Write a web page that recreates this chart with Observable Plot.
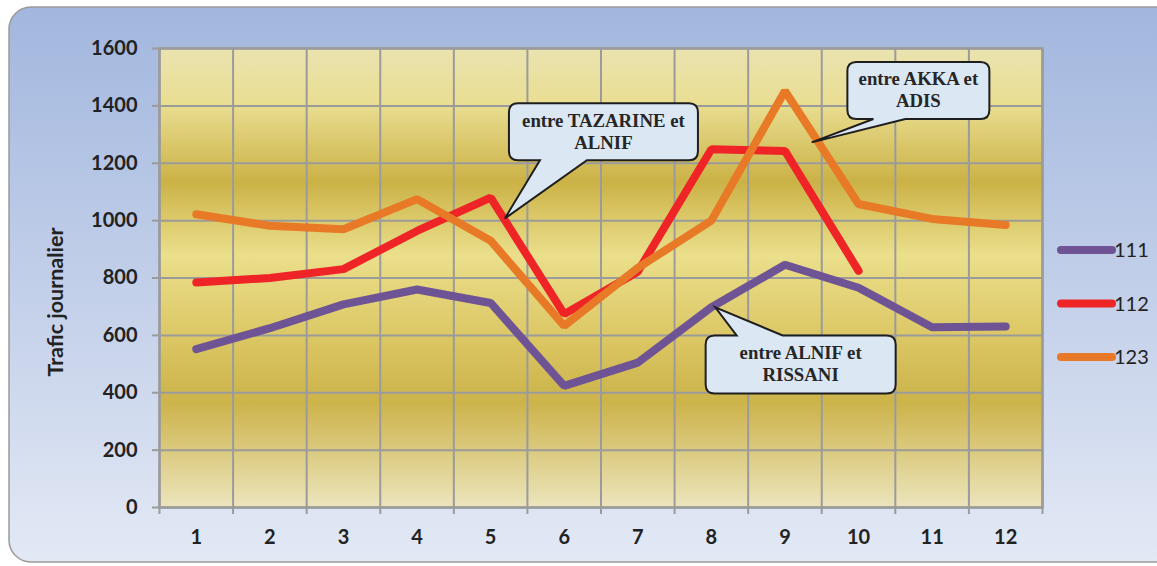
<!DOCTYPE html>
<html><head><meta charset="utf-8">
<script src="https://cdn.jsdelivr.net/npm/d3@7"></script>
<script src="https://cdn.jsdelivr.net/npm/@observablehq/plot@0.6"></script>
<style>body{margin:0;background:#fff;overflow:hidden}</style>
</head><body><div id="chart"></div>
<script>
// ---- data ----
const months = [1,2,3,4,5,6,7,8,9,10,11,12];
const seriesNames = ["111","112","123"];
const values111 = [552,625,708,760,713,424,505,698,846,766,628,631];
const values112 = [784,800,831,964,1080,674,822,1249,1243,825,null,null];
const values123 = [1022,982,970,1075,930,633,835,1000,1452,1058,1006,985];
const seriesColors = ["#6e5494","#ee2427","#e87a27"];
const yTicks = [0,200,400,600,800,1000,1200,1400,1600];
const xBoundaries = [0.5,1.5,2.5,3.5,4.5,5.5,6.5,7.5,8.5,9.5,10.5,11.5,12.5];
const yTitle = "Trafic journalier";
const calloutTexts = [["entre TAZARINE et","ALNIF"],["entre AKKA et","ADIS"],["entre ALNIF et","RISSANI"]];
const calloutBoxX = [6.54, 10.82, 9.22];
const calloutBoxY = [1308, 1452, 497];
const calloutTipX = [5.2, 9.37, 8.06];
const calloutTipY = [1006, 1271, 696];

const rows = [];
months.forEach((m,i)=>{
  [values111,values112,values123].forEach((arr,k)=>{
    if (arr[i] != null) rows.push({month:m, value:arr[i], series:seriesNames[k]});
  });
});

const W = 1157, H = 566;
const grid = "#9b9b9b";
const font = "Lato, 'Open Sans', sans-serif";
const chart = Plot.plot({
  width: W, height: H,
  marginLeft: 159, marginRight: 115, marginTop: 48, marginBottom: 59,
  style: {background: "transparent", fontFamily: font},
  x: {domain: [0.5, 12.5], label: null},
  y: {domain: [0, 1600], label: null},
  color: {domain: seriesNames, range: seriesColors},
  marks: [
    Plot.frame({fill: "url(#goldGrad)", stroke: null}),
    Plot.gridY(yTicks, {stroke: grid, strokeOpacity: 1, strokeWidth: 2}),
    Plot.gridX(xBoundaries, {stroke: grid, strokeOpacity: 1, strokeWidth: 2}),
    Plot.frame({stroke: grid, strokeWidth: 2.5}),
    Plot.axisY(yTicks, {tickSize: 7, tickFormat: () => "", stroke: grid, strokeWidth: 2, label: null}),
    Plot.axisY(yTicks, {tickSize: 0, tickPadding: 22, tickFormat: d => String(d), fontSize: 20, fontWeight: "bold", fill: "#222", label: null}),
    Plot.axisX(xBoundaries, {tickSize: 7, tickFormat: () => "", stroke: grid, strokeWidth: 2, label: null}),
    Plot.axisX(months, {tickSize: 0, tickPadding: 22, tickFormat: d => String(d), fontSize: 20, fontWeight: "bold", fill: "#222", label: null}),
    Plot.line(rows, {x: "month", y: "value", z: "series", stroke: "series", strokeWidth: 8,
      strokeLinecap: "round", strokeLinejoin: "miter"})
  ]
});
document.getElementById("chart").appendChild(chart);

const svg = d3.select(chart);
const defs = svg.insert("defs", ":first-child");
const gold = defs.append("linearGradient").attr("id","goldGrad").attr("x1",0).attr("y1",0).attr("x2",0).attr("y2",1);
[[0,"#eae3b0"],[0.12,"#e9de92"],[0.29,"#cbb246"],[0.45,"#ebdf8c"],[0.62,"#dcc866"],[0.77,"#ccb34a"],[1,"#ece5bd"]]
  .forEach(([o,c]) => gold.append("stop").attr("offset",o).attr("stop-color",c));
const blue = defs.append("linearGradient").attr("id","panelGrad").attr("x1",0).attr("y1",0).attr("x2",0).attr("y2",1);
[[0,"#a2b7de"],[0.5,"#c2cfe9"],[1,"#e3e9f5"]]
  .forEach(([o,c]) => blue.append("stop").attr("offset",o).attr("stop-color",c));

svg.insert("rect", "defs + *")
  .attr("x",9).attr("y",7).attr("width",1170).attr("height",555)
  .attr("rx",22).attr("fill","url(#panelGrad)").attr("stroke","#9a9a9a").attr("stroke-width",1.5);

// y title
svg.append("text").attr("transform","translate(63,302) rotate(-90)")
  .attr("text-anchor","middle").attr("font-family",font)
  .attr("font-weight","bold").attr("font-size",21.5).attr("fill","#222").text(yTitle);

// legend
const lg = svg.append("g");
seriesNames.forEach((s,i) => {
  const y = 250 + i*53.5;
  lg.append("line").attr("x1",1061).attr("x2",1112).attr("y1",y).attr("y2",y)
    .attr("stroke",seriesColors[i]).attr("stroke-width",8).attr("stroke-linecap","round");
  lg.append("text").attr("x",1114).attr("y",y+7).attr("text-anchor","start").attr("font-family",font)
    .attr("font-size",20).attr("fill","#222").text(s);
});

// callouts
const xs = chart.scale("x"), ys = chart.scale("y");
const boxSize = [[189,57],[142,57],[190,58]];
const pointerSide = ["bottom","bottom","top"];
const pointerBase = [[31,78],[26,58],[31,77]];
function calloutPath(x0,y0,w,h,r,side,b1,b2,tx,ty){
  const x1=x0+w, y1=y0+h;
  let d = `M${x0+r},${y0}`;
  if (side==="top") d += `L${x0+b1},${y0}L${tx},${ty}L${x0+b2},${y0}`;
  d += `L${x1-r},${y0}Q${x1},${y0} ${x1},${y0+r}L${x1},${y1-r}Q${x1},${y1} ${x1-r},${y1}`;
  if (side==="bottom") d += `L${x0+b2},${y1}L${tx},${ty}L${x0+b1},${y1}`;
  d += `L${x0+r},${y1}Q${x0},${y1} ${x0},${y1-r}L${x0},${y0+r}Q${x0},${y0} ${x0+r},${y0}Z`;
  return d;
}
const cg = svg.append("g");
calloutTexts.forEach((lines,i) => {
  const cx = xs.apply(calloutBoxX[i]), cy = ys.apply(calloutBoxY[i]);
  const [w,h] = boxSize[i];
  const x0 = cx - w/2, y0 = cy - h/2;
  const tx = xs.apply(calloutTipX[i]), ty = ys.apply(calloutTipY[i]);
  cg.append("path").attr("d", calloutPath(x0,y0,w,h,9,pointerSide[i],pointerBase[i][0],pointerBase[i][1],tx,ty))
    .attr("fill","#dbe7f3").attr("stroke","#1e1e1e").attr("stroke-width",2);
  lines.forEach((t,j) => {
    cg.append("text").attr("x",cx).attr("y",cy + (j===0 ? -11 : 11) + 6)
      .attr("text-anchor","middle").attr("font-family","'Liberation Serif', 'Times New Roman', serif")
      .attr("font-weight","bold").attr("font-size",18.8).attr("fill","#262626").text(t);
  });
});
</script>
</body></html>
